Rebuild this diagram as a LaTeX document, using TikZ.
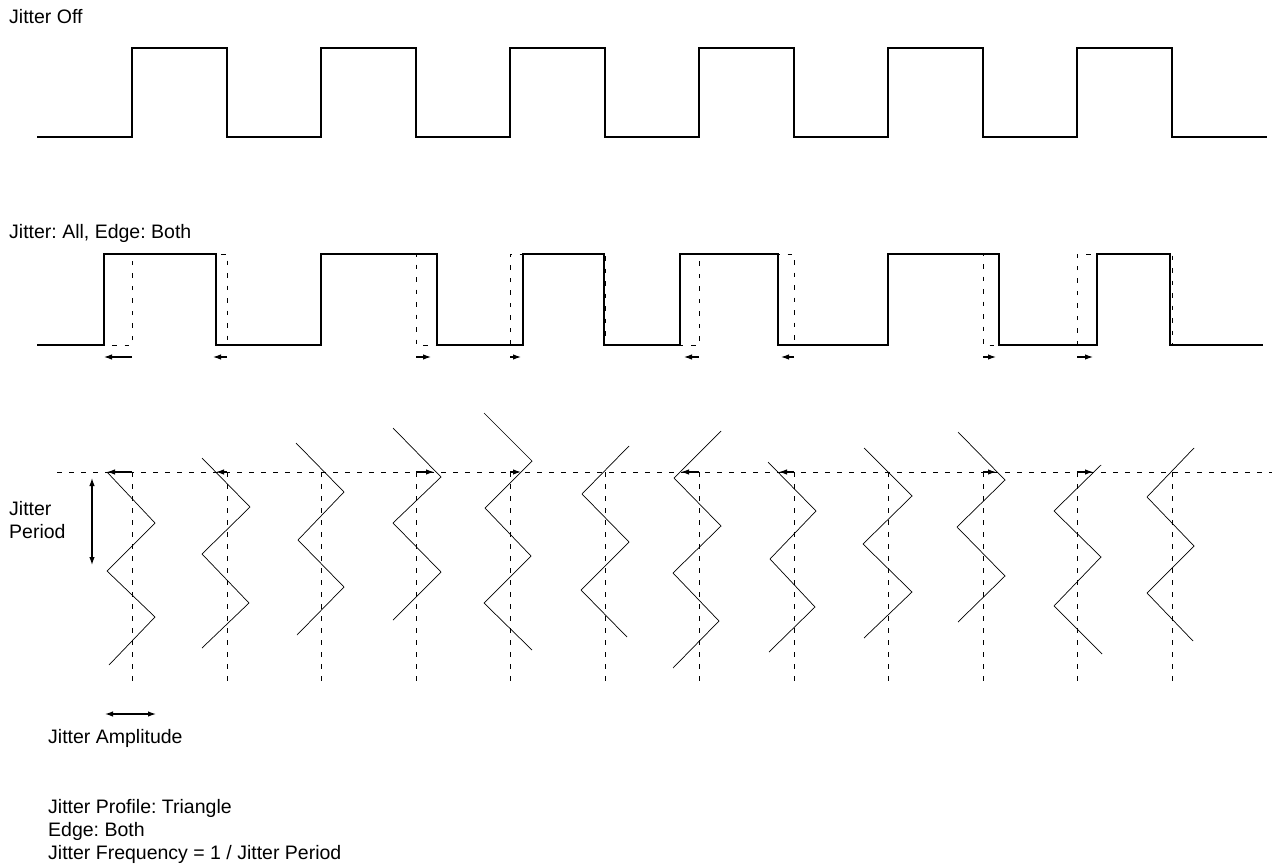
\documentclass[tikz,border=0pt]{standalone}
\usepackage{fontspec}
\setmainfont{Liberation Sans}
\usetikzlibrary{arrows.meta}
\frenchspacing
\begin{document}
\begin{tikzpicture}[x=1pt,y=-1pt,
  wave/.style={line width=1.3pt, line join=miter},
  nominal/.style={line width=0.9pt, dash pattern=on 4.5pt off 8pt},
  gridline/.style={line width=0.8pt, dash pattern=on 5pt off 7pt},
  zig/.style={line width=0.7pt, line join=miter},
  jit/.style={line width=1.1pt, -{Latex[length=8pt,width=5.5pt]}},
  dim/.style={line width=1.2pt, {Latex[length=8pt,width=5.5pt]}-{Latex[length=8pt,width=5.5pt]}},
  lbl/.style={anchor=base west, inner sep=0pt, font=\fontsize{19.5}{23}\selectfont}]
\useasboundingbox (0,0) rectangle (1275,867);

% ---------- labels ----------
\node[lbl] (off) at (9,24) {Jitter Off};
\node[lbl] (all) at (9,238) {Jitter: All, Edge: Both};
\node[lbl] (per1) at (9,515) {Jitter};
\node[lbl] (per2) at (9,538) {Period};
\node[lbl] (amp) at (48,743) {Jitter Amplitude};
\node[lbl] (prof) at (48,813) {Jitter Profile: Triangle};
\node[lbl] (edge) at (48,836) {Edge: Both};
\node[lbl] (freq) at (48,859) {Jitter Frequency = 1 / Jitter Period};

% ---------- top waveform (jitter off) ----------
\draw[wave] (37,137)
  foreach \r/\f in {132/227,321/416,510/605,699/794,888/983,1077/1172}
  { -- (\r,137) -- (\r,48) -- (\f,48) -- (\f,137) } -- (1267,137);

% ---------- middle waveform ----------
\draw[nominal] (37,345)
  foreach \r/\f in {132/227,321/416,510/605,699/794,888/983,1077/1172}
  { -- (\r,345) -- (\r,254) -- (\f,254) -- (\f,345) } -- (1265,345);
\draw[wave] (37,345)
  foreach \r/\f in {104/216,321/437,523/604,680/778,888/999,1097/1170}
  { -- (\r,345) -- (\r,254) -- (\f,254) -- (\f,345) } -- (1263,345);
\foreach \a/\b in {132/104,227/213,416/431,510/521,699/684,794/781,983/996,1077/1093}
  \draw[jit] (\a,357) -- (\b,357);

% ---------- triangle profile ----------
\draw[gridline] (57,472) -- (1272,472);
\foreach \x in {132,227,321,416,510,605,699,794,888,983,1077,1172}
  \draw[gridline] (\x,472) -- (\x,683);

\draw[zig] (107,472) -- (155,523) -- (107,571) -- (155,617) -- (109,665);
\draw[zig] (202,458) -- (250,507) -- (202,554) -- (249,603) -- (202,648);
\draw[zig] (296,443) -- (344,492) -- (298,540) -- (344,587) -- (297,635);
\draw[zig] (393,428) -- (441,477) -- (393,523) -- (441,572) -- (393,620);
\draw[zig] (484,413) -- (532,461) -- (485,508) -- (531,556) -- (484,603) -- (532,650);
\draw[zig] (629,446) -- (582,494) -- (629,542) -- (581,590) -- (627,637);
\draw[zig] (721,431) -- (674,478) -- (721,526) -- (673,573) -- (719,621) -- (673,668);
\draw[zig] (768,462) -- (816,511) -- (770,559) -- (815,607) -- (769,652);
\draw[zig] (864,448) -- (912,496) -- (863,544) -- (912,592) -- (864,638);
\draw[zig] (958,432) -- (1005,480) -- (957,527) -- (1005,576) -- (958,622);
\draw[zig] (1101,465) -- (1054,511) -- (1101,557) -- (1054,606) -- (1102,654);
\draw[zig] (1194,448) -- (1147,497) -- (1194,546) -- (1147,593) -- (1193,641);

\foreach \a/\b in {132/107,227/216,416/434,510/521,699/681,794/779,983/996,1077/1093}
  \draw[jit] (\a,472) -- (\b,472);

% ---------- dimension arrows ----------
\draw[dim] (92,478) -- (92,565);
\draw[dim] (105,714) -- (156,714);
\end{tikzpicture}
\end{document}
